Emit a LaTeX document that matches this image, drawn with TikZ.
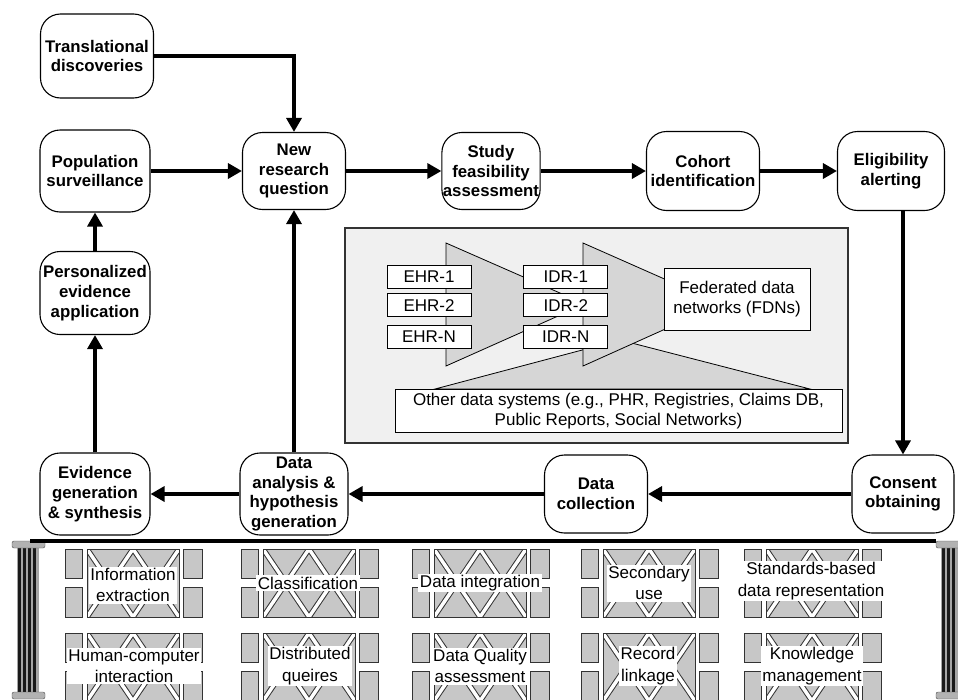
\documentclass[tikz,border=0pt]{standalone}
\usepackage{fontspec}
\setmainfont{Liberation Sans}
\usetikzlibrary{arrows.meta,positioning}

\begin{document}
\begin{tikzpicture}[x=1pt,y=-1pt]
\tikzstyle{phase}=[draw=black,line width=1.1pt,rounded corners=20pt,
fill=white,align=center,inner sep=1pt,
font=\fontsize{16.8}{19.8}\selectfont\bfseries]
\tikzstyle{flow}=[line width=3.3pt,-{Triangle[length=14pt,width=15pt]}]
\tikzstyle{repo}=[draw=black,line width=0.8pt,fill=white,inner sep=0pt,
minimum width=84pt,minimum height=23pt,font=\fontsize{17}{20.5}\selectfont]
\tikzstyle{funnel}=[draw=black,line width=0.8pt,fill=black!16]
\tikzstyle{brick}=[draw=black!80,line width=1pt,fill=black!22]
\tikzstyle{tag}=[fill=white,align=center,inner sep=1.5pt,
font=\fontsize{17}{21.5}\selectfont]
\useasboundingbox (0,0) rectangle (958,699);

% life cycle
\node[phase,minimum width=113pt,minimum height=84pt] (trans) at (97,56) {Translational\\discoveries};
\node[phase,minimum width=110pt,minimum height=82pt] (pop) at (95,171) {Population\\surveillance};
\node[phase,minimum width=103pt,minimum height=77pt] (newq) at (294,171) {New\\research\\question};
\node[phase,minimum width=97pt,minimum height=77pt] (study) at (491,171) {Study\\feasibility\\assessment};
\node[phase,minimum width=113pt,minimum height=79pt] (cohort) at (703,171) {Cohort\\identification};
\node[phase,minimum width=107pt,minimum height=79pt] (elig) at (891,171) {Eligibility\\alerting};
\node[phase,minimum width=110pt,minimum height=83pt] (pers) at (95,293) {Personalized\\evidence\\application};
\node[phase,minimum width=110pt,minimum height=82pt] (evid) at (95,494) {Evidence\\generation\\\& synthesis};
\node[phase,minimum width=108pt,minimum height=82pt] (analysis) at (294,494) {Data\\analysis \&\\hypothesis\\generation};
\node[phase,minimum width=103pt,minimum height=78pt] (collect) at (596,494) {Data\\collection};
\node[phase,minimum width=102pt,minimum height=78pt] (consent) at (903,494) {Consent\\obtaining};

\draw[flow] (trans.east) -| (newq.north);
\draw[flow] (pop) -- (newq);
\draw[flow] (newq) -- (study);
\draw[flow] (study) -- (cohort);
\draw[flow] (cohort) -- (elig);
\draw[flow] (elig.south -| consent.north) -- (consent.north);
\draw[flow] (consent) -- (collect);
\draw[flow] (collect) -- (analysis);
\draw[flow] (analysis) -- (evid);
\draw[flow] (evid) -- (pers);
\draw[flow] (pers) -- (pop);
\draw[flow] (analysis) -- (newq);

% data sources
\draw[draw=black!80,line width=1.2pt,fill=black!6] (345,228) rectangle (848,443);
\draw[funnel] (435,389) -- (620,340) -- (810,389) -- cycle;
\draw[funnel] (446,243) -- (585,304) -- (446,366) -- cycle;
\draw[funnel] (583,243) -- (721,304) -- (583,366) -- cycle;
\node[repo] (ehr1) at (429,276.5) {EHR-1};
\node[repo,below=5pt of ehr1] (ehr2) {EHR-2};
\node[repo,below=8pt of ehr2] (ehrn) {EHR-N};
\node[repo,right=52pt of ehr1] (idr1) {IDR-1};
\node[repo,below=5pt of idr1] (idr2) {IDR-2};
\node[repo,below=8pt of idr2] (idrn) {IDR-N};
\node[repo,minimum width=146pt,minimum height=62pt,align=center] (fdn) at (737,299) {Federated data\\networks (FDNs)};
\node[repo,minimum width=447pt,minimum height=43pt,align=center] (other) at (618.5,411) {Other data systems (e.g., PHR, Registries, Claims DB,\\Public Reports, Social Networks)};

% foundation
\begin{scope}
\clip (0,0) rectangle (958,699);
\foreach \tx in {65,241,412,581,744} {
\foreach \ty in {549,633} {
\draw[brick] (\tx,\ty) rectangle ++(17,29);
\draw[brick] ({\tx},{\ty+38}) rectangle ++(17,30);
\draw[brick] ({\tx+118},{\ty}) rectangle ++(19,29);
\draw[brick] ({\tx+118},{\ty+38}) rectangle ++(19,30);
\begin{scope}
\clip ({\tx+22},{\ty}) rectangle ({\tx+114},{\ty+68});
\fill[black!22] ({\tx+22},{\ty}) rectangle ({\tx+114},{\ty+68});
\draw[black!80,line width=5.5pt] ({\tx+22},{\ty}) -- ({\tx+68},{\ty+68})
({\tx+68},{\ty}) -- ({\tx+22},{\ty+68}) ({\tx+68},{\ty}) -- ({\tx+114},{\ty+68})
({\tx+114},{\ty}) -- ({\tx+68},{\ty+68});
\draw[white,line width=3.5pt] ({\tx+22},{\ty}) -- ({\tx+68},{\ty+68})
({\tx+68},{\ty}) -- ({\tx+22},{\ty+68}) ({\tx+68},{\ty}) -- ({\tx+114},{\ty+68})
({\tx+114},{\ty}) -- ({\tx+68},{\ty+68});
\end{scope}
\draw[black!80,line width=1pt] ({\tx+22},{\ty}) rectangle ({\tx+114},{\ty+68});
}}
% pillars
\fill[black!35] (17,548) rectangle (39,692);
\foreach \sx in {18,23,28,33} \fill[black!90] (\sx,548) rectangle ++(3,144);
\draw[fill=black!30,draw=black!70,rounded corners=2pt] (12,541) rectangle (45,548);
\draw[fill=black!30,draw=black!70,rounded corners=2pt] (12,692) rectangle (45,699);
\fill[black!35] (941,548) rectangle (958,692);
\foreach \sx in {942,947,952} \fill[black!90] (\sx,548) rectangle ++(3,144);
\draw[fill=black!30,draw=black!70,rounded corners=2pt] (936,541) rectangle (962,548);
\draw[fill=black!30,draw=black!70,rounded corners=2pt] (936,692) rectangle (962,699);
\end{scope}
\draw[line width=4pt] (30,541) -- (936,541);

\node[tag] (info) at (133,585) {Information\\extraction};
\node[tag] (classif) at (308,583) {Classification};
\node[tag] (integ) at (480,583) {Data integration};
\node[tag] (second) at (649,583) {Secondary\\use};
\node[tag,inner xsep=4pt] (standards) at (811,581) {Standards-based\\data representation};
\node[tag] (hci) at (134,666) {Human-computer\\interaction};
\node[tag] (distq) at (310,666) {Distributed\\queires};
\node[tag] (quality) at (480,666) {Data Quality\\assessment};
\node[tag] (linkage) at (648,666) {Record\\linkage};
\node[tag] (knowledge) at (812,666) {Knowledge\\management};

\end{tikzpicture}
\end{document}
